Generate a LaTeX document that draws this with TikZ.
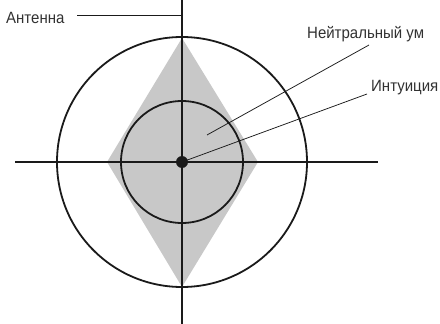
\documentclass[tikz,border=0pt]{standalone}
\usepackage{fontspec}
\setmainfont{Liberation Sans}[FakeStretch=0.92]
\usepackage{xcolor}
\definecolor{CGray}{HTML}{C8C8C8}
\definecolor{CInk}{HTML}{1A1A1A}
\usetikzlibrary{positioning}
\tikzset{
  axisLine/.style={draw=CInk, line width=1.4pt},
  ringLine/.style={draw=CInk, line width=1.8pt},
  leaderLine/.style={draw=CInk, line width=0.75pt},
  labelNode/.style={inner sep=0pt, anchor=base west, font=\fontsize{16.3}{18}\selectfont, text=CInk!90}
}
\begin{document}
\begin{tikzpicture}[x=1pt, y=-1pt]
\useasboundingbox (0,0) rectangle (440,324);
\coordinate (o) at (182,162);
% rhombus and rings
\fill[CGray] (182,38) -- (258,162) -- (182,287) -- (107,162) -- cycle;
\draw[ringLine] (o) circle[radius=125];
\draw[ringLine] (o) circle[radius=61];
% axes
\coordinate (top) at (182,0);
\coordinate (bottom) at (182,324);
\coordinate (left) at (15,162);
\coordinate (right) at (378,162);
\draw[axisLine] (top) -- (bottom);
\draw[axisLine] (left) -- (right);
\fill[CInk] (o) circle[radius=6];
% labels
\node[labelNode] (ant) at (6,23.5) {Антенна};
\node[labelNode] (neu) at (307,38.5) {Нейтральный ум};
\node[labelNode] (int) at (371,92) {Интуиция};
\coordinate (antStart) at (77,15);
\coordinate (antEnd) at (182,15);
\coordinate (neuEnd) at (207,135);
\coordinate (neuTip) at (369,45);
\coordinate (intTip) at (367,94);
\draw[leaderLine] (antStart) -- (antEnd);
\draw[leaderLine] (neuTip) -- (neuEnd);
\draw[leaderLine] (intTip) -- (o);
\end{tikzpicture}
\end{document}
